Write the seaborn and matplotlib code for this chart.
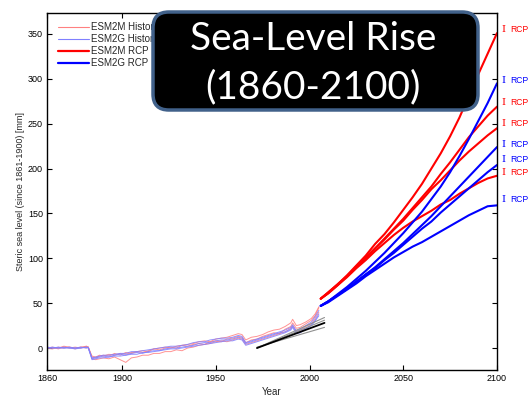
import matplotlib
matplotlib.use("Agg")
import matplotlib.pyplot as plt
import seaborn as sns
import pandas as pd
from matplotlib.patches import FancyBboxPatch
from matplotlib.lines import Line2D

# ---------------- data ----------------
hist_years = [1860,1863,1866,1869,1872,1875,1878,1881,1882,1884,1886,1888,1890,1893,1896,1899,1902,1905,1908,1911,
              1914,1917,1920,1923,1926,1929,1932,1935,1938,1941,1944,1947,1950,1953,1956,1959,1962,1964,1966,1969,
              1972,1975,1978,1981,1984,1987,1990,1991,1993,1995,1998,2001,2003,2005]
esm2m_hist_1 = [0,1,-1,1,0,1,0,2,1,-10,-11,-9,-8,-9,-6,-8,-5,-6,-4,-5,
                -3,-1,-2,0,1,0,3,2,4,5,4,7,8,7,10,11,13,12,6,9,
                10,13,15,17,16,21,24,28,22,23,27,31,36,45]
esm2m_hist_2 = [0,-1,1,0,1,-1,1,0,1,-12,-13,-12,-11,-12,-10,-13,-16,-11,-10,-8,
                -8,-6,-6,-4,-4,-2,-3,0,1,3,4,5,7,8,7,9,11,10,4,6,
                8,10,12,14,16,18,22,25,19,20,24,27,33,40]
esm2m_hist_3 = [1,0,0,2,1,0,1,2,1,-9,-10,-8,-9,-7,-8,-6,-7,-5,-4,-3,
                -4,-1,0,1,0,2,3,4,5,7,8,7,10,11,12,14,16,15,9,12,
                13,15,18,20,21,24,28,32,25,26,29,33,38,46]
esm2g_hist_1 = [1,0,0,1,0,0,1,0,1,-12,-11,-10,-9,-10,-8,-7,-8,-6,-5,-6,
                -4,-3,-3,-1,0,0,1,2,3,5,6,6,8,9,9,10,12,11,5,7,
                9,11,13,15,17,18,21,24,17,18,22,26,31,38]
esm2g_hist_2 = [0,0,1,0,1,0,0,1,0,-11,-10,-9,-8,-8,-7,-6,-6,-4,-4,-3,
                -2,-1,0,1,2,2,3,4,6,7,7,9,10,11,11,12,14,13,6,8,
                10,12,14,16,18,20,23,26,19,21,25,29,35,42]
esm2g_hist_3 = [0,1,0,0,0,-1,0,1,0,-13,-12,-11,-11,-10,-9,-9,-8,-7,-7,-5,
                -5,-4,-3,-2,-1,-1,0,1,2,3,4,5,6,7,8,8,10,9,3,5,
                7,9,11,13,15,17,20,23,16,17,21,25,30,36]

rcp_years = [2006,2010,2015,2020,2025,2030,2035,2040,2045,2050,2055,2060,2065,2070,2075,2080,2085,2090,2095,2100]
esm2m_rcp85 = [55,62,71,81,92,103,116,127,140,154,168,183,200,217,236,257,281,305,328,351]
esm2m_rcp60 = [55,62,71,80,91,101,111,122,133,144,156,168,180,194,207,221,235,247,259,269]
esm2m_rcp45 = [55,61,70,80,90,100,111,121,132,142,154,165,177,187,198,209,219,228,237,245]
esm2m_rcp26 = [55,61,70,79,89,98,108,117,126,134,141,147,153,160,165,172,178,184,189,192]
esm2g_rcp85 = [47,52,60,68,77,86,96,106,117,128,140,152,166,180,196,214,233,253,273,295]
esm2g_rcp60 = [47,52,59,66,74,82,90,99,108,117,127,137,147,158,169,180,191,202,213,224]
esm2g_rcp45 = [47,52,59,66,74,82,89,98,106,115,124,133,141,151,160,169,178,187,196,204]
esm2g_rcp26 = [47,51,58,65,72,80,87,94,101,107,113,118,124,130,136,142,148,153,158,159]

trend_years = [1972, 2008]
trend_black = [0, 28]
trend_grays = [[0, 34], [0, 31], [1, 23]]

legend_labels = ["ESM2M Historical", "ESM2G Historical", "ESM2M RCP", "ESM2G RCP"]
rcp_names = ["RCP", "RCP", "RCP", "RCP"]
esm2m_label_y = [355, 274, 250, 196]
esm2g_label_y = [298, 227, 210, 165]

x_ticks = [1860, 1900, 1950, 2000, 2050, 2100]
y_ticks = [0, 50, 100, 150, 200, 250, 300, 350]

# ---------------- frames ----------------
def long_df(years, series):
    rows = []
    for name, vals in series.items():
        for y, v in zip(years, vals):
            rows.append({"year": y, "val": v, "member": name})
    return pd.DataFrame(rows)

df_mh = long_df(hist_years, {"m1": esm2m_hist_1, "m2": esm2m_hist_2, "m3": esm2m_hist_3})
df_gh = long_df(hist_years, {"g1": esm2g_hist_1, "g2": esm2g_hist_2, "g3": esm2g_hist_3})
df_mr = long_df(rcp_years, {"85": esm2m_rcp85, "60": esm2m_rcp60, "45": esm2m_rcp45, "26": esm2m_rcp26})
df_gr = long_df(rcp_years, {"85": esm2g_rcp85, "60": esm2g_rcp60, "45": esm2g_rcp45, "26": esm2g_rcp26})
tr = {"black": trend_black}
for i, g in enumerate(trend_grays):
    tr[f"g{i}"] = g
df_tr = long_df(trend_years, tr)

# ---------------- plot ----------------
sns.set_style("ticks")
plt.rcParams["font.family"] = ["Liberation Sans", "DejaVu Sans"]

W, H = 529, 396
fig = plt.figure(figsize=(W / 100, H / 100), dpi=100)
ax = fig.add_axes([47 / W, 1 - 370 / H, (497 - 47) / W, (370 - 13) / H])

red_light = "#ff8080"
blue_light = "#8080ff"
sns.lineplot(data=df_mh, x="year", y="val", units="member", estimator=None, color=red_light, lw=0.7, alpha=0.85, ax=ax, legend=False)
sns.lineplot(data=df_gh, x="year", y="val", units="member", estimator=None, color=blue_light, lw=0.7, alpha=0.85, ax=ax, legend=False)
sns.lineplot(data=df_tr[df_tr.member != "black"], x="year", y="val", units="member", estimator=None, color="#909090", lw=0.8, ax=ax, legend=False)
sns.lineplot(data=df_tr[df_tr.member == "black"], x="year", y="val", color="black", lw=1.3, ax=ax, legend=False)
sns.lineplot(data=df_mr, x="year", y="val", units="member", estimator=None, color="#ff0000", lw=1.5, ax=ax, legend=False)
sns.lineplot(data=df_gr, x="year", y="val", units="member", estimator=None, color="#0000ff", lw=1.5, ax=ax, legend=False)

ax.set_xlim(1860, 2100)
ax.set_ylim(-24.5, 373.4)
ax.set_xticks(x_ticks)
ax.set_yticks(y_ticks)
ax.tick_params(direction="in", top=True, right=True, length=3.5, width=0.8, labelsize=6.5, pad=3, colors="black")
for s in ax.spines.values():
    s.set_linewidth(1.0)
    s.set_color("black")
ax.set_xlabel("Year", fontsize=7, labelpad=3)
ax.set_ylabel("Steric sea level (since 1861-1900) [mm]", fontsize=6.5, labelpad=2)

handles = [Line2D([], [], color=red_light, lw=0.8), Line2D([], [], color=blue_light, lw=0.8),
           Line2D([], [], color="#ff0000", lw=1.6), Line2D([], [], color="#0000ff", lw=1.6)]
ax.legend(handles, legend_labels, loc="upper left", bbox_to_anchor=(0.015, 0.985), frameon=False,
          fontsize=7, handlelength=3.2, handletextpad=0.2, labelspacing=0.2, borderaxespad=0)

# right-side scenario labels
for names, ys, col in [(rcp_names, esm2m_label_y, "#ff0000"), (rcp_names, esm2g_label_y, "#0000ff")]:
    for n, yv in zip(names, ys):
        ax.text(2102.5, yv, "I", color=col, fontsize=7, family="DejaVu Serif", va="center", ha="left", clip_on=False)
        ax.text(2107.0, yv, n, color=col, fontsize=6.2, va="center", ha="left", clip_on=False)

# title box
x0, y0, x1, y1 = 153, 12, 478, 110
box = FancyBboxPatch((x0 / W, 1 - y1 / H), (x1 - x0) / W, (y1 - y0) / H,
                     boxstyle="round,pad=0,rounding_size=0.03", transform=fig.transFigure,
                     facecolor="black", edgecolor="#41618a", lw=2.5, zorder=10, mutation_aspect=W / H)
fig.patches.append(box)
fig.text(313 / W, 1 - 50 / H, "Sea-Level Rise", color="white", fontsize=28, family="Lato",
         ha="center", va="baseline", zorder=11)
fig.text(313 / W, 1 - 98 / H, "(1860-2100)", color="white", fontsize=28, family="Lato",
         ha="center", va="baseline", zorder=11)

fig.savefig("out.png", dpi=100)
